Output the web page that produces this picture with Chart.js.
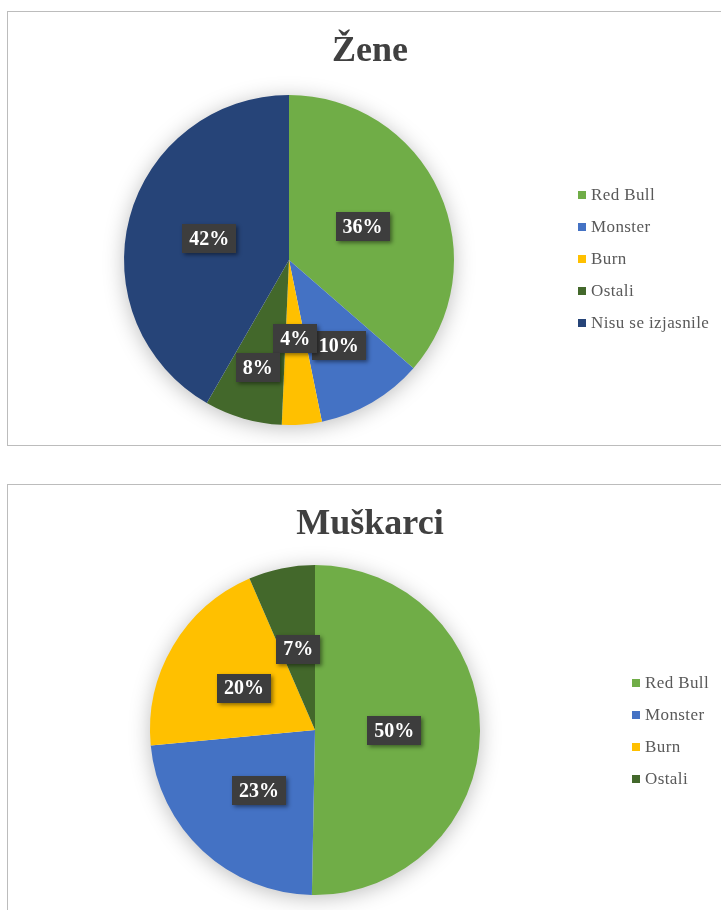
<!DOCTYPE html>
<html>
<head>
<meta charset="utf-8">
<script src="https://cdn.jsdelivr.net/npm/chart.js@4/dist/chart.umd.min.js"></script>
<style>
  html, body { margin: 0; padding: 0; background: #fff; width: 721px; height: 910px; overflow: hidden; }
  .box { position: absolute; left: 7px; width: 724px; height: 433px; border: 1px solid #bcbcbc; background: #fff; }
  .box canvas { position: absolute; left: 0; top: 0; }
  .title { position: absolute; left: 0; top: 16px; width: 724px; text-align: center; line-height: 43px;
    font-family: 'Liberation Serif', 'Times New Roman', serif; font-weight: bold; font-size: 36px; color: #404040; }
  .legend { position: absolute; font-family: 'Liberation Serif', 'Times New Roman', serif; font-size: 17px; letter-spacing: 0.4px; color: #595959; }
  .legend div { height: 32px; line-height: 32px; white-space: nowrap; }
  .legend span { display: inline-block; width: 8px; height: 8px; margin-right: 5px; vertical-align: 1px; }
</style>
</head>
<body>
<div class="box" id="box-zene" style="top:11px;">
  <canvas id="chart-zene" width="722" height="431"></canvas>
  <div class="title" id="title-zene"></div>
  <div class="legend" id="legend-zene" style="left:570px;top:167px;"></div>
</div>
<div class="box" id="box-muskarci" style="top:484px;">
  <canvas id="chart-muskarci" width="722" height="431"></canvas>
  <div class="title" id="title-muskarci"></div>
  <div class="legend" id="legend-muskarci" style="left:624px;top:182px;"></div>
</div>
<script>
const ZENE_TITLE = 'Žene';
const ZENE_LABELS = ['Red Bull', 'Monster', 'Burn', 'Ostali', 'Nisu se izjasnile'];
const ZENE_VALUES = [36.4, 10.4, 3.9, 7.6, 41.7];
const MUSKARCI_TITLE = 'Muškarci';
const MUSKARCI_LABELS = ['Red Bull', 'Monster', 'Burn', 'Ostali'];
const MUSKARCI_VALUES = [50.3, 23.2, 20.0, 6.5];
const SLICE_COLORS = ['#70ad47', '#4472c4', '#ffc000', '#43682b', '#264478'];

// how far out (fraction of the radius) each data label sits
const ZENE_LABEL_POS = [0.49, 0.6, 0.48, 0.68, 0.5];
const MUSKARCI_LABEL_POS = [0.48, 0.5, 0.5, 0.5];

const pieShadow = {
  id: 'pieShadow',
  beforeDatasetsDraw(chart) {
    const arc = chart.getDatasetMeta(0).data[0];
    if (!arc) return;
    const { x, y, outerRadius } = arc.getProps(['x', 'y', 'outerRadius'], true);
    const ctx = chart.ctx;
    ctx.save();
    ctx.shadowColor = 'rgba(0,0,0,0.28)';
    ctx.shadowBlur = 22;
    ctx.shadowOffsetY = 3;
    ctx.fillStyle = '#ffffff';
    ctx.beginPath();
    ctx.arc(x, y, outerRadius - 1, 0, Math.PI * 2);
    ctx.fill();
    ctx.restore();
  }
};

const boxLabels = {
  id: 'boxLabels',
  afterDatasetsDraw(chart, args, opts) {
    const ctx = chart.ctx;
    const values = chart.data.datasets[0].data;
    const total = values.reduce((a, b) => a + b, 0);
    chart.getDatasetMeta(0).data.forEach((arc, index) => {
      const p = arc.getProps(['x', 'y', 'startAngle', 'endAngle', 'outerRadius'], true);
      const mid = (p.startAngle + p.endAngle) / 2;
      const r = p.outerRadius * (opts.pos[index] ?? 0.5);
      const cx = p.x + Math.cos(mid) * r;
      const cy = p.y + Math.sin(mid) * r;
      const text = `${Math.round(values[index] / total * 100)}%`;
      ctx.save();
      ctx.font = 'bold 20px "Liberation Serif", "Times New Roman", serif';
      const w = ctx.measureText(text).width + 14;
      const h = 29;
      ctx.shadowColor = 'rgba(0,0,0,0.45)';
      ctx.shadowBlur = 4;
      ctx.shadowOffsetX = 2;
      ctx.shadowOffsetY = 2;
      ctx.fillStyle = '#3d3d3d';
      ctx.fillRect(Math.round(cx - w / 2), Math.round(cy - h / 2), Math.round(w), h);
      ctx.shadowColor = 'transparent';
      ctx.fillStyle = '#ffffff';
      ctx.textAlign = 'center';
      ctx.textBaseline = 'middle';
      ctx.fillText(text, cx, cy + 1);
      ctx.restore();
    });
  }
};

function makePie(canvasId, labels, values, labelPos, padding) {
  return new Chart(document.getElementById(canvasId), {
    type: 'pie',
    data: {
      labels,
      datasets: [{
        data: values,
        backgroundColor: SLICE_COLORS.slice(0, values.length),
        borderWidth: 0
      }]
    },
    options: {
      responsive: false,
      animation: false,
      layout: { padding },
      plugins: {
        legend: { display: false },
        tooltip: { enabled: false },
        boxLabels: { pos: labelPos }
      }
    },
    plugins: [pieShadow, boxLabels]
  });
}

function renderLegend(id, labels) {
  document.getElementById(id).innerHTML = labels
    .map((label, index) => `<div><span style="background:${SLICE_COLORS[index]}"></span>${label}</div>`)
    .join('');
}

document.getElementById('title-zene').textContent = ZENE_TITLE;
document.getElementById('title-muskarci').textContent = MUSKARCI_TITLE;

makePie('chart-zene', ZENE_LABELS, ZENE_VALUES, ZENE_LABEL_POS,
  { top: 83, left: 116, right: 276, bottom: 18 });
makePie('chart-muskarci', MUSKARCI_LABELS, MUSKARCI_VALUES, MUSKARCI_LABEL_POS,
  { top: 80, left: 142, right: 250, bottom: 21 });

renderLegend('legend-zene', ZENE_LABELS);
renderLegend('legend-muskarci', MUSKARCI_LABELS);
</script>
</body>
</html>
